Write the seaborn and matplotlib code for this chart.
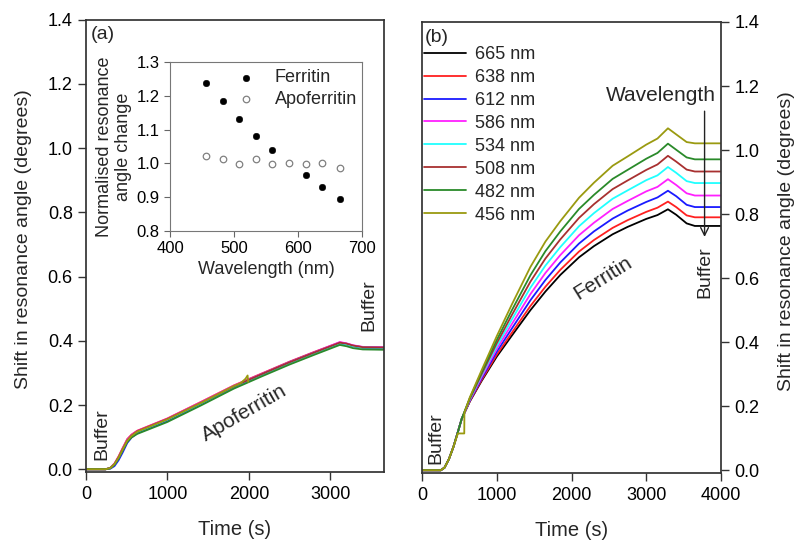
import matplotlib
matplotlib.use("Agg")
import matplotlib.pyplot as plt
import seaborn as sns
import pandas as pd

# ---- inset: normalised resonance angle change vs wavelength
wl_ferritin = [456, 482, 508, 534, 560, 612, 638, 665]
norm_ferritin = [1.237, 1.184, 1.130, 1.081, 1.041, 0.966, 0.929, 0.894]
wl_apo = [456, 482, 508, 534, 560, 586, 612, 638, 665]
norm_apo = [1.023, 1.014, 0.999, 1.012, 0.997, 1.002, 0.997, 1.002, 0.985]

# ---- series labels / colours (same for both panels)
wl_labels = ["665 nm", "638 nm", "612 nm", "586 nm", "534 nm", "508 nm", "482 nm", "456 nm"]
wl_colors = ["#000000", "#ff2020", "#1a1aff", "#ff20ff", "#20ffff", "#a83030", "#2a8a2a", "#9a9a10"]

# ---- panel (a): apoferritin binding, time (s) vs shift (deg)
t_apo = [0, 240, 300, 350, 400, 450, 507, 560, 629, 998, 1407, 1816, 2176, 2500, 2800, 3117, 3200, 3280, 3400, 3660]
apo_665 = [0, 0, 0.004, 0.015, 0.035, 0.060, 0.088, 0.103, 0.115, 0.153, 0.204, 0.257, 0.297, 0.332, 0.362, 0.392, 0.389, 0.383, 0.379, 0.378]
apo_638 = [0, 0, 0.005, 0.018, 0.040, 0.066, 0.094, 0.108, 0.120, 0.158, 0.209, 0.261, 0.300, 0.335, 0.365, 0.395, 0.391, 0.385, 0.380, 0.379]
apo_612 = [0, 0, 0.002, 0.010, 0.028, 0.052, 0.082, 0.099, 0.112, 0.151, 0.202, 0.256, 0.297, 0.333, 0.363, 0.393, 0.390, 0.384, 0.379, 0.378]
apo_586 = [0, 0, 0.004, 0.017, 0.038, 0.064, 0.093, 0.107, 0.119, 0.157, 0.208, 0.260, 0.299, 0.334, 0.364, 0.396, 0.392, 0.386, 0.381, 0.380]
apo_534 = [0, 0, 0.004, 0.015, 0.035, 0.060, 0.088, 0.103, 0.116, 0.154, 0.204, 0.257, 0.297, 0.332, 0.362, 0.392, 0.389, 0.383, 0.379, 0.378]
apo_508 = [0, 0, 0.004, 0.016, 0.037, 0.062, 0.090, 0.105, 0.118, 0.156, 0.206, 0.258, 0.298, 0.333, 0.363, 0.394, 0.391, 0.385, 0.380, 0.379]
apo_482 = [0, 0, 0.003, 0.014, 0.033, 0.058, 0.085, 0.099, 0.110, 0.147, 0.198, 0.251, 0.291, 0.326, 0.356, 0.387, 0.383, 0.377, 0.373, 0.372]
t_apo_456 = [0, 240, 300, 350, 400, 450, 507, 560, 629, 998, 1407, 1816, 1900, 1960, 1985, 1992]
apo_456 = [0, 0, 0.004, 0.016, 0.036, 0.061, 0.089, 0.104, 0.117, 0.155, 0.206, 0.259, 0.268, 0.282, 0.292, 0.272]

# ---- panel (b): ferritin binding
t_fer = [0, 250, 300, 360, 420, 480, 530, 640, 800, 1000, 1200, 1450, 1650, 1850, 2100, 2300, 2550, 2750,
         3000, 3150, 3290, 3400, 3540, 3650, 4000]
fer_665 = [0, 0, 0.008, 0.035, 0.073, 0.12, 0.16, 0.215, 0.280, 0.355, 0.420, 0.500, 0.558, 0.610, 0.665, 0.700,
           0.737, 0.760, 0.785, 0.797, 0.815, 0.798, 0.771, 0.763, 0.763]
fer_638 = [0, 0, 0.008, 0.035, 0.073, 0.12, 0.16, 0.216, 0.283, 0.361, 0.429, 0.513, 0.573, 0.626, 0.683, 0.719,
           0.757, 0.781, 0.807, 0.820, 0.839, 0.822, 0.796, 0.790, 0.790]
fer_612 = [0, 0, 0.008, 0.035, 0.073, 0.12, 0.16, 0.218, 0.288, 0.370, 0.442, 0.531, 0.594, 0.649, 0.708, 0.746,
           0.786, 0.811, 0.838, 0.852, 0.873, 0.856, 0.829, 0.822, 0.822]
fer_586 = [0, 0, 0.008, 0.035, 0.073, 0.12, 0.16, 0.220, 0.293, 0.379, 0.456, 0.550, 0.616, 0.672, 0.734, 0.773,
           0.816, 0.841, 0.871, 0.885, 0.909, 0.891, 0.865, 0.858, 0.858]
fer_534 = [0, 0, 0.008, 0.035, 0.073, 0.12, 0.16, 0.222, 0.298, 0.388, 0.470, 0.570, 0.639, 0.697, 0.762, 0.803,
           0.848, 0.874, 0.906, 0.921, 0.947, 0.929, 0.903, 0.897, 0.897]
fer_508 = [0, 0, 0.008, 0.035, 0.073, 0.12, 0.16, 0.224, 0.302, 0.397, 0.484, 0.589, 0.661, 0.721, 0.788, 0.831,
           0.878, 0.905, 0.938, 0.955, 0.982, 0.964, 0.939, 0.933, 0.933]
fer_482 = [0, 0, 0.008, 0.035, 0.073, 0.12, 0.16, 0.226, 0.308, 0.407, 0.499, 0.609, 0.684, 0.746, 0.816, 0.860,
           0.910, 0.938, 0.973, 0.991, 1.020, 1.001, 0.977, 0.971, 0.971]
t_fer_456 = [0, 250, 300, 360, 420, 480, 565, 567, 640, 800, 1000, 1200, 1450, 1650, 1850, 2100, 2300, 2550, 2750,
             3000, 3150, 3290, 3400, 3540, 3650, 4000]
fer_456 = [0, 0, 0.008, 0.035, 0.073, 0.115, 0.115, 0.180, 0.228, 0.314, 0.419, 0.517, 0.635, 0.714, 0.778, 0.851,
           0.898, 0.951, 0.980, 1.017, 1.036, 1.068, 1.049, 1.025, 1.021, 1.021]


def long_table(series):
    rows = []
    for lab, (tt, vv) in zip(wl_labels, series):
        rows += [{"t": a, "v": b, "wl": lab} for a, b in zip(tt, vv)]
    return pd.DataFrame(rows)


df_a = long_table([(t_apo, apo_665), (t_apo, apo_638), (t_apo, apo_612), (t_apo, apo_586),
                   (t_apo, apo_534), (t_apo, apo_508), (t_apo, apo_482), (t_apo_456, apo_456)])
df_b = long_table([(t_fer, fer_665), (t_fer, fer_638), (t_fer, fer_612), (t_fer, fer_586),
                   (t_fer, fer_534), (t_fer, fer_508), (t_fer, fer_482), (t_fer_456, fer_456)])

sns.set_theme(style="ticks")
plt.rcParams["font.family"] = ["Liberation Sans", "DejaVu Sans"]
plt.rcParams["axes.edgecolor"] = "#333333"
plt.rcParams["xtick.color"] = "#333333"
plt.rcParams["ytick.color"] = "#333333"
plt.rcParams["xtick.labelcolor"] = "black"
plt.rcParams["ytick.labelcolor"] = "black"

fig = plt.figure(figsize=(7.99, 5.48), dpi=100)
ax_a = fig.add_axes([0.1076, 0.1378, 0.373, 0.8266])
ax_b = fig.add_axes([0.5282, 0.1360, 0.3742, 0.8239])
ax_in = fig.add_axes([0.2128, 0.5785, 0.2403, 0.3084])

yt = [0, 0.2, 0.4, 0.6, 0.8, 1.0, 1.2, 1.4]

# panel (a)
sns.lineplot(data=df_a, x="t", y="v", hue="wl", hue_order=wl_labels, palette=wl_colors,
             estimator=None, sort=False, lw=1.3, legend=False, ax=ax_a)
ax_a.set_xlim(0, 3660)
ax_a.set_ylim(-0.01, 1.4)
ax_a.set_xticks([0, 1000, 2000, 3000])
ax_a.set_yticks(yt)
ax_a.set_yticklabels([f"{v:.1f}" for v in yt])
ax_a.set_xlabel("Time (s)", fontsize=14.5)
ax_a.set_ylabel("Shift in resonance angle (degrees)", fontsize=14)
ax_a.xaxis.set_label_coords(0.5, -0.105)
ax_a.yaxis.set_label_coords(-0.181, 0.515)
ax_a.tick_params(labelsize=13, length=6, width=1, direction="out")
ax_a.text(0.015, 0.985, "(a)", transform=ax_a.transAxes, fontsize=14, va="top", ha="left")
ax_a.text(200, 0.11, "Buffer", rotation=90, fontsize=14, ha="center", va="center")
ax_a.text(1950, 0.175, "Apoferritin", rotation=30, fontsize=15, ha="center", va="center")
ax_a.text(3480, 0.51, "Buffer", rotation=90, fontsize=14, ha="center", va="center")

# inset
sns.scatterplot(x=wl_ferritin, y=norm_ferritin, color="black", edgecolor="black", s=22,
                label="Ferritin", ax=ax_in)
sns.scatterplot(x=wl_apo, y=norm_apo, color="white", edgecolor="#808080", linewidth=0.9, s=22,
                label="Apoferritin", ax=ax_in)
ax_in.set_xlim(400, 700)
ax_in.set_ylim(0.8, 1.3)
ax_in.set_xticks([400, 500, 600, 700])
yt_in = [0.8, 0.9, 1.0, 1.1, 1.2, 1.3]
ax_in.set_yticks(yt_in)
ax_in.set_yticklabels([f"{v:.1f}" for v in yt_in])
ax_in.set_xlabel("Wavelength (nm)", fontsize=13, labelpad=3)
ax_in.set_ylabel("Normalised resonance\nangle change", fontsize=13, labelpad=3)
ax_in.tick_params(labelsize=12, length=4, width=0.8, direction="out", color="#666666")
for sp in ax_in.spines.values():
    sp.set_color("#777777")
    sp.set_linewidth(0.8)
ax_in.legend(loc="upper right", bbox_to_anchor=(1.03, 1.02), frameon=False, fontsize=13,
             handletextpad=0.6, labelspacing=0.25, borderaxespad=0.2)

# panel (b)
sns.lineplot(data=df_b, x="t", y="v", hue="wl", hue_order=wl_labels, palette=wl_colors,
             estimator=None, sort=False, lw=1.3, ax=ax_b)
ax_b.set_xlim(0, 4000)
ax_b.set_ylim(-0.01, 1.4)
ax_b.set_xticks([0, 1000, 2000, 3000, 4000])
ax_b.set_yticks(yt)
ax_b.set_yticklabels([f"{v:.1f}" for v in yt])
ax_b.yaxis.tick_right()
ax_b.yaxis.set_label_position("right")
ax_b.set_xlabel("Time (s)", fontsize=14.5)
ax_b.set_ylabel("Shift in resonance angle (degrees)", fontsize=14)
ax_b.xaxis.set_label_coords(0.5, -0.105)
ax_b.yaxis.set_label_coords(1.19, 0.515)
ax_b.tick_params(labelsize=13, length=6, width=1, direction="out")
h, l = ax_b.get_legend_handles_labels()
ax_b.legend(h, l, loc="upper left", bbox_to_anchor=(-0.005, 0.955), frameon=False, fontsize=13,
            handlelength=2.3, handletextpad=0.5, labelspacing=0.33, borderaxespad=0, borderpad=0.2)
ax_b.text(0.01, 0.985, "(b)", transform=ax_b.transAxes, fontsize=14, va="top", ha="left")
ax_b.text(3200, 1.17, "Wavelength", fontsize=15, ha="center", va="center")
ax_b.annotate("", xy=(3780, 0.72), xytext=(3780, 1.13),
              arrowprops=dict(arrowstyle="->", color="#222222", lw=1, mutation_scale=14))
ax_b.text(3790, 0.62, "Buffer", rotation=90, fontsize=14, ha="center", va="center")
ax_b.text(180, 0.10, "Buffer", rotation=90, fontsize=14, ha="center", va="center")
ax_b.text(2420, 0.60, "Ferritin", rotation=32, fontsize=15, ha="center", va="center")

fig.savefig("out.png", dpi=100)
